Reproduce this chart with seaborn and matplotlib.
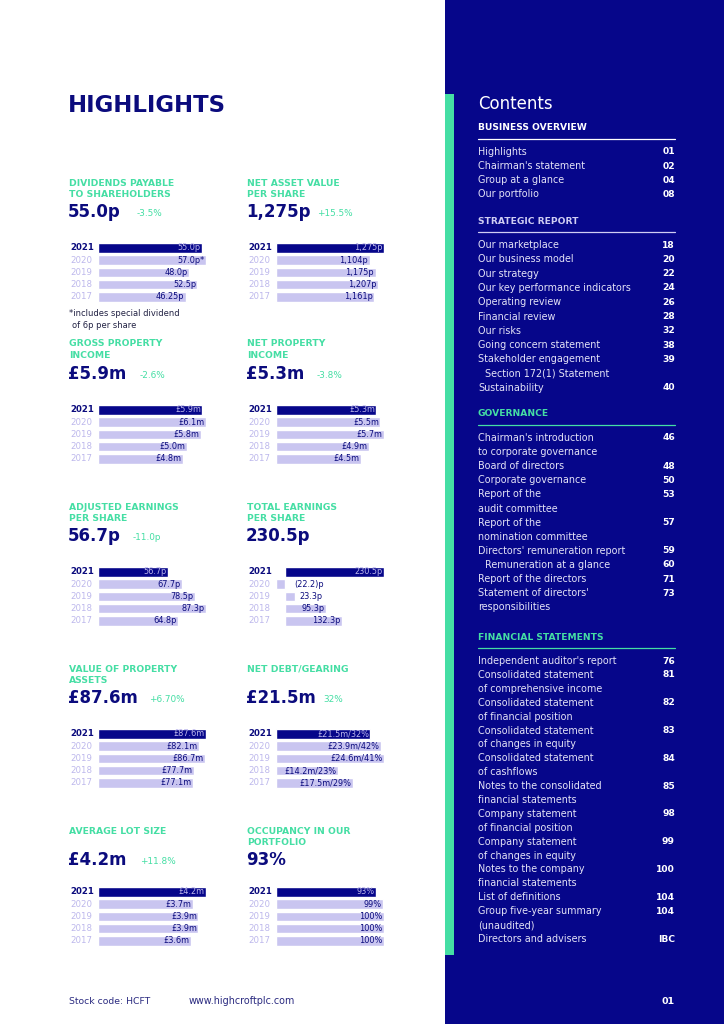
import numpy as np
import pandas as pd
import seaborn as sns
import matplotlib.pyplot as plt
from matplotlib.patches import Rectangle
from matplotlib.lines import Line2D

# page of KPI mini bar charts + contents column

years = ["2021", "2020", "2019", "2018", "2017"]

div_values = [55.0, 57.0, 48.0, 52.5, 46.25]
nav_values = [1275, 1104, 1175, 1207, 1161]
gpi_values = [5.9, 6.1, 5.8, 5.0, 4.8]
npi_values = [5.3, 5.5, 5.7, 4.9, 4.5]
aeps_values = [56.7, 67.7, 78.5, 87.3, 64.8]
teps_values = [230.5, -22.2, 23.3, 95.3, 132.3]
vpa_values = [87.6, 82.1, 86.7, 77.7, 77.1]
debt_values = [21.5, 23.9, 24.6, 14.2, 17.5]
gearing_values = [32, 42, 41, 23, 29]
lot_values = [4.2, 3.7, 3.9, 3.9, 3.6]
occ_values = [93, 99, 100, 100, 100]

div_labels = ["55.0p", "57.0p*", "48.0p", "52.5p", "46.25p"]
nav_labels = [f"{v:,}p" for v in nav_values]
gpi_labels = [f"£{v:.1f}m" for v in gpi_values]
npi_labels = [f"£{v:.1f}m" for v in npi_values]
aeps_labels = [f"{v:.1f}p" for v in aeps_values]
teps_labels = [f"({-v:.1f})p" if v < 0 else f"{v:.1f}p" for v in teps_values]
vpa_labels = [f"£{v:.1f}m" for v in vpa_values]
debt_labels = [f"£{d:.1f}m/{g}%" for d, g in zip(debt_values, gearing_values)]
lot_labels = [f"£{v:.1f}m" for v in lot_values]
occ_labels = [f"{v}%" for v in occ_values]

panel_titles = [
    ["DIVIDENDS PAYABLE", "TO SHAREHOLDERS"], ["NET ASSET VALUE", "PER SHARE"],
    ["GROSS PROPERTY", "INCOME"], ["NET PROPERTY", "INCOME"],
    ["ADJUSTED EARNINGS", "PER SHARE"], ["TOTAL EARNINGS", "PER SHARE"],
    ["VALUE OF PROPERTY", "ASSETS"], ["NET DEBT/GEARING"],
    ["AVERAGE LOT SIZE"], ["OCCUPANCY IN OUR", "PORTFOLIO"],
]
headline = ["55.0p", "1,275p", "£5.9m", "£5.3m", "56.7p", "230.5p",
            "£87.6m", "£21.5m", "£4.2m", "93%"]
change = ["-3.5%", "+15.5%", "-2.6%", "-3.8%", "-11.0p", "",
          "+6.70%", "32%", "+11.8%", ""]
panel_values = [div_values, nav_values, gpi_values, npi_values, aeps_values,
                teps_values, vpa_values, debt_values, lot_values, occ_values]
panel_labels = [div_labels, nav_labels, gpi_labels, npi_labels, aeps_labels,
                teps_labels, vpa_labels, debt_labels, lot_labels, occ_labels]

contents = [
    ("BUSINESS OVERVIEW", [("Highlights", "01"), ("Chairman's statement", "02"),
                           ("Group at a glance", "04"), ("Our portfolio", "08")]),
    ("STRATEGIC REPORT", [("Our marketplace", "18"), ("Our business model", "20"),
                          ("Our strategy", "22"), ("Our key performance indicators", "24"),
                          ("Operating review", "26"), ("Financial review", "28"),
                          ("Our risks", "32"), ("Going concern statement", "38"),
                          ("Stakeholder engagement", "39"), ("  Section 172(1) Statement", ""),
                          ("Sustainability", "40")]),
    ("GOVERNANCE", [("Chairman's introduction", "46"), ("to corporate governance", ""),
                    ("Board of directors", "48"), ("Corporate governance", "50"),
                    ("Report of the", "53"), ("audit committee", ""),
                    ("Report of the", "57"), ("nomination committee", ""),
                    ("Directors' remuneration report", "59"),
                    ("  Remuneration at a glance", "60"),
                    ("Report of the directors", "71"),
                    ("Statement of directors'", "73"), ("responsibilities", "")]),
    ("FINANCIAL STATEMENTS", [("Independent auditor's report", "76"),
                              ("Consolidated statement", "81"), ("of comprehensive income", ""),
                              ("Consolidated statement", "82"), ("of financial position", ""),
                              ("Consolidated statement", "83"), ("of changes in equity", ""),
                              ("Consolidated statement", "84"), ("of cashflows", ""),
                              ("Notes to the consolidated", "85"), ("financial statements", ""),
                              ("Company statement", "98"), ("of financial position", ""),
                              ("Company statement", "99"), ("of changes in equity", ""),
                              ("Notes to the company", "100"), ("financial statements", ""),
                              ("List of definitions", "104"), ("Group five-year summary", "104"),
                              ("(unaudited)", ""), ("Directors and advisers", "IBC")]),
]

navy = "#06068a"
dark = "#0b0b7d"
lav = "#c9c5f0"
lav_txt = "#bdb8ec"
green = "#45dea4"

sns.set_style("white")
plt.rcParams['font.family'] = ['DejaVu Sans']

W, H = 724, 1024
fig = plt.figure(figsize=(7.24, 10.24), dpi=100)
fig.patch.set_facecolor("white")


def fx(x):
    return x / W


def fy(y):
    return 1 - y / H


def txt(x, y, s, **kw):
    kw.setdefault("va", "center")
    fig.text(fx(x), fy(y), s, **kw)


# right navy panel and green stripe
fig.patches.append(Rectangle((fx(445), 0), 1 - fx(445), 1, transform=fig.transFigure,
                             facecolor=navy, edgecolor="none", zorder=0))
fig.patches.append(Rectangle((fx(445), fy(955)), fx(454) - fx(445), fy(94) - fy(955),
                             transform=fig.transFigure, facecolor=green,
                             edgecolor="none", zorder=1))

txt(68, 105, "HIGHLIGHTS", fontsize=16.4, fontweight="bold", color=dark)

# panel layout: (first header line y, headline y, first bar centre)
col_x = [69, 247]
bar_x = [98, 276]
rows = [(183, 212, 248), (344, 374, 410), (507, 536, 572), (669, 698, 734), (831, 860, 892)]
change_x = [[137, 317], [140, 317], [133, 317], [149, 323], [140, 317]]
row_h = 12.2

for k in range(10):
    r, c = divmod(k, 2)
    hy, vy, by = rows[r]
    for j, line in enumerate(panel_titles[k]):
        txt(col_x[c], hy + j * 11.5, line, fontsize=6.7, fontweight="bold", color=green)
    txt(col_x[c] - 1, vy, headline[k], fontsize=12, fontweight="bold", color=dark)
    if change[k]:
        txt(change_x[r][c], vy + 1, change[k], fontsize=6.4, color=green)

    vals = panel_values[k]
    labs = panel_labels[k]
    df = pd.DataFrame({"year": years, "value": vals})
    top = by - row_h / 2
    ax = fig.add_axes([fx(bar_x[c]), fy(top + 5 * row_h), 108 / W, 5 * row_h / H])
    sns.barplot(data=df, x="value", y="year", hue="year", orient="h",
                palette=[navy] + [lav] * 4, legend=False, width=0.8,
                saturation=1, ax=ax)
    lo = min(0, min(vals))
    hi = max(vals)
    ax.set_xlim(lo, hi)
    ax.set_ylim(4.5, -0.5)
    ax.axis("off")
    span = hi - lo
    for i, (v, lab) in enumerate(zip(vals, labs)):
        col = lav_txt if i == 0 else dark
        if (max(v, 0) - lo) / span < 0.3:
            ax.annotate(lab, (max(v, 0), i), xytext=(3 if v > 0 else 6, 0),
                        textcoords="offset points", ha="left", va="center",
                        fontsize=5.9, color=col)
        else:
            ax.annotate(lab, (v, i), xytext=(-1.0, 0), textcoords="offset points",
                        ha="right", va="center", fontsize=5.9, color=col)
        yc = top + (i + 0.5) * row_h
        if i == 0:
            txt(col_x[c] + 1, yc, years[i], fontsize=6.2, fontweight="bold", color=dark)
        else:
            txt(col_x[c] + 1, yc, years[i], fontsize=6.2, color=lav_txt)

txt(69, 314, "*includes special dividend", fontsize=6.0, color="#222244")
txt(72, 325, "of 6p per share", fontsize=6.0, color="#222244")

# contents column
txt(478, 104, "Contents", fontsize=12, color="white")
head_y = [128, 221, 414, 637]
head_col = ["white", "#cfcdf3", green, green]
steps = [14.1, 14.3, 14.1, 13.9]
for (title, entries), hy, hc, st in zip(contents, head_y, head_col, steps):
    txt(478, hy, title, fontsize=6.6, fontweight="bold", color=hc)
    ly = hy + 11
    fig.add_artist(Line2D([fx(478), fx(675)], [fy(ly), fy(ly)], color=hc, lw=0.9,
                          transform=fig.transFigure))
    for n, (name, page) in enumerate(entries):
        ey = hy + 24 + n * st
        indent = 7 if name.startswith("  ") else 0
        txt(478 + indent, ey, name.strip(), fontsize=6.9, color="#e4e3f7")
        if page:
            txt(675, ey, page, fontsize=6.6, fontweight="bold", color="white", ha="right")

txt(69, 1001, "Stock code: HCFT", fontsize=6.7, color="#2a2a80")
txt(189, 1001, "www.highcroftplc.com", fontsize=6.9, color="#2a2a80")
txt(661, 1001, "01", fontsize=6.8, fontweight="bold", color="white")

fig.savefig("out.png", dpi=100)
